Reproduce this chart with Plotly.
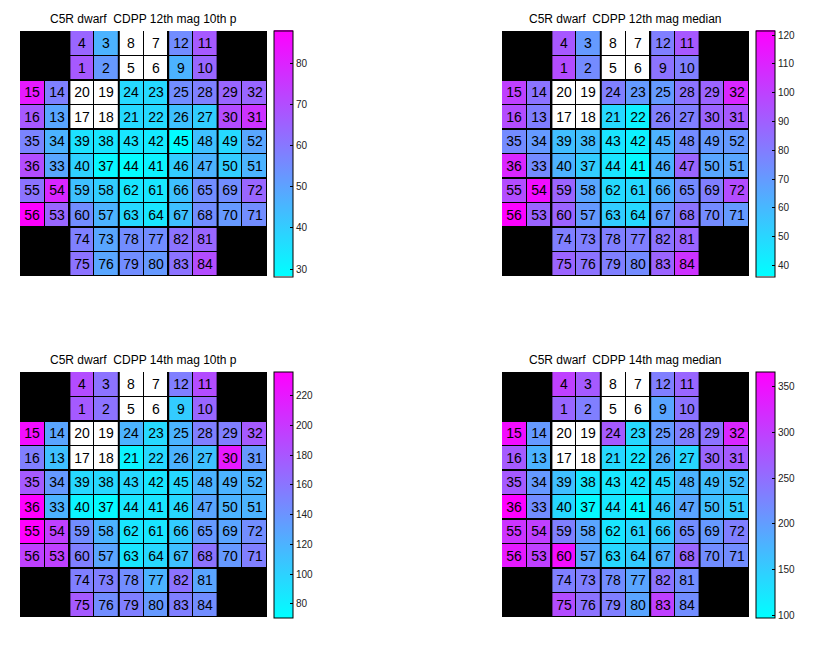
import plotly.graph_objects as go

W, H = 816, 650

# Channel layout (rows top->bottom), None = no channel (black)
layout_grid = [
    [None, None, 4, 3, 8, 7, 12, 11, None, None],
    [None, None, 1, 2, 5, 6, 9, 10, None, None],
    [15, 14, 20, 19, 24, 23, 25, 28, 29, 32],
    [16, 13, 17, 18, 21, 22, 26, 27, 30, 31],
    [35, 34, 39, 38, 43, 42, 45, 48, 49, 52],
    [36, 33, 40, 37, 44, 41, 46, 47, 50, 51],
    [55, 54, 59, 58, 62, 61, 66, 65, 69, 72],
    [56, 53, 60, 57, 63, 64, 67, 68, 70, 71],
    [None, None, 74, 73, 78, 77, 82, 81, None, None],
    [None, None, 75, 76, 79, 80, 83, 84, None, None],
]
white_channels = [5, 6, 7, 8, 17, 18, 19, 20]

titles = [
    "C5R dwarf  CDPP 12th mag 10th p",
    "C5R dwarf  CDPP 12th mag median",
    "C5R dwarf  CDPP 14th mag 10th p",
    "C5R dwarf  CDPP 14th mag median",
]
cranges = [(28.2, 87.9), (36.2, 121.6), (70.9, 236.3), (97.3, 366.6)]
dticks = [10, 10, 20, 50]

# CDPP values per channel (ppm)
cdpp_12_p10 = {
    4: 64, 3: 46, 12: 55, 11: 67, 1: 67, 2: 52, 9: 46, 10: 64,
    15: 82, 14: 58, 24: 37, 23: 37, 25: 55, 28: 58, 29: 64, 32: 64,
    16: 67, 13: 49, 21: 37, 22: 37, 26: 43, 27: 40, 30: 70, 31: 76,
    35: 57, 34: 46, 39: 35, 38: 34, 43: 34, 42: 33, 45: 29, 48: 43, 49: 37, 52: 49,
    36: 70, 33: 49, 40: 39, 37: 30, 44: 29, 41: 31, 46: 40, 47: 46, 50: 40, 51: 46,
    55: 61, 54: 79, 59: 43, 58: 40, 62: 34, 61: 34, 66: 43, 65: 55, 69: 55, 72: 64,
    56: 88, 53: 64, 60: 55, 57: 46, 63: 37, 64: 34, 67: 43, 68: 55, 70: 52, 71: 55,
    74: 58, 73: 49, 78: 55, 77: 55, 82: 61, 81: 64,
    75: 61, 76: 49, 79: 55, 80: 52, 83: 61, 84: 70,
}
cdpp_12_med = {
    4: 92, 3: 70, 12: 79, 11: 92, 1: 96, 2: 75, 9: 83, 10: 79,
    15: 100, 14: 83, 24: 79, 23: 70, 25: 70, 28: 83, 29: 88, 32: 109,
    16: 96, 13: 79, 21: 49, 22: 41, 26: 79, 27: 79, 30: 88, 31: 92,
    35: 75, 34: 70, 39: 58, 38: 58, 43: 45, 42: 41, 45: 62, 48: 75, 49: 70, 52: 70,
    36: 109, 33: 75, 40: 62, 37: 53, 44: 45, 41: 38, 46: 62, 47: 88, 50: 66, 51: 66,
    55: 96, 54: 117, 59: 88, 58: 66, 62: 49, 61: 49, 66: 62, 65: 75, 69: 79, 72: 96,
    56: 121, 53: 88, 60: 88, 57: 70, 63: 53, 64: 49, 67: 70, 68: 83, 70: 75, 71: 70,
    74: 79, 73: 79, 78: 79, 77: 79, 82: 83, 81: 88,
    75: 88, 76: 83, 79: 79, 80: 75, 83: 88, 84: 105,
}
cdpp_14_p10 = {
    4: 187, 3: 162, 12: 154, 11: 187, 1: 178, 2: 162, 9: 104, 10: 170,
    15: 228, 14: 129, 24: 120, 23: 96, 25: 120, 28: 154, 29: 154, 32: 178,
    16: 154, 13: 112, 21: 79, 22: 96, 26: 120, 27: 112, 30: 220, 31: 137,
    35: 178, 34: 137, 39: 96, 38: 96, 43: 96, 42: 87, 45: 96, 48: 120, 49: 120, 52: 120,
    36: 236, 33: 120, 40: 79, 37: 74, 44: 87, 41: 87, 46: 96, 47: 129, 50: 120, 51: 120,
    55: 236, 54: 195, 59: 145, 58: 120, 62: 87, 61: 87, 66: 104, 65: 137, 69: 129, 72: 145,
    56: 195, 53: 195, 60: 154, 57: 129, 63: 87, 64: 96, 67: 112, 68: 162, 70: 137, 71: 154,
    74: 154, 73: 154, 78: 145, 77: 120, 82: 162, 81: 129,
    75: 178, 76: 145, 79: 154, 80: 137, 83: 154, 84: 145,
}
cdpp_14_med = {
    4: 299, 3: 272, 12: 232, 11: 259, 1: 259, 2: 232, 9: 192, 10: 245,
    15: 353, 14: 205, 24: 272, 23: 138, 25: 205, 28: 232, 29: 245, 32: 326,
    16: 272, 13: 178, 21: 138, 22: 124, 26: 178, 27: 138, 30: 259, 31: 272,
    35: 272, 34: 205, 39: 165, 38: 124, 43: 124, 42: 124, 45: 138, 48: 178, 49: 165, 52: 165,
    36: 366, 33: 218, 40: 138, 37: 103, 44: 124, 41: 105, 46: 151, 47: 192, 50: 165, 51: 151,
    55: 313, 54: 299, 59: 232, 58: 192, 62: 124, 61: 138, 66: 151, 65: 218, 69: 205, 72: 232,
    56: 340, 53: 299, 60: 353, 57: 192, 63: 138, 64: 151, 67: 178, 68: 259, 70: 218, 71: 218,
    74: 232, 73: 232, 78: 218, 77: 192, 82: 245, 81: 218,
    75: 286, 76: 245, 79: 232, 80: 192, 83: 299, 84: 218,
}
panels_data = [cdpp_12_p10, cdpp_12_med, cdpp_14_p10, cdpp_14_med]

# pixel geometry of each panel: (left, top) of heatmap
panel_px = [(20, 31), (502, 31), (20, 372), (502, 372)]
hm_w, hm_h = 247, 245
cb_gap, cb_w = 7, 19

FONT = "Liberation Sans, Arial"
fig = go.Figure()
xs = list(range(10))
ys = list(range(10))

for i, data in enumerate(panels_data):
    ax = "" if i == 0 else str(i + 1)
    xa, ya = "x" + ax, "y" + ax
    z, txt, zw, tw = [], [], [], []
    for row in layout_grid:
        zr, tr, zwr, twr = [], [], [], []
        for ch in row:
            if ch is None:
                zr.append(None); tr.append(""); zwr.append(None); twr.append("")
            elif ch in white_channels:
                zr.append(None); tr.append(""); zwr.append(1); twr.append(str(ch))
            else:
                zr.append(data[ch]); tr.append(str(ch)); zwr.append(None); twr.append("")
        z.append(zr); txt.append(tr); zw.append(zwr); tw.append(twr)

    left, top = panel_px[i]
    cmin, cmax = cranges[i]
    fig.add_trace(go.Heatmap(
        x=xs, y=ys, z=z, text=txt, texttemplate="%{text}",
        textfont=dict(family=FONT, size=14, color="black"),
        colorscale=[[0, "#00ffff"], [1, "#ff00ff"]], zmin=cmin, zmax=cmax,
        xgap=1, ygap=1, hoverongaps=False, xaxis=xa, yaxis=ya,
        colorbar=dict(
            x=(left + hm_w + cb_gap) / W, xanchor="left",
            y=1 - (top + hm_h / 2) / H, yanchor="middle",
            len=hm_h + 1, lenmode="pixels", thickness=cb_w, thicknessmode="pixels",
            outlinewidth=1, outlinecolor="black", borderwidth=0, xpad=0, ypad=0,
            ticks="inside", ticklen=3, tickcolor="black", dtick=dticks[i],
            tickfont=dict(family=FONT, size=10, color="#222"),
        ),
    ))
    fig.add_trace(go.Heatmap(
        x=xs, y=ys, z=zw, text=tw, texttemplate="%{text}",
        textfont=dict(family=FONT, size=14, color="black"),
        colorscale=[[0, "white"], [1, "white"]], showscale=False,
        xgap=1, ygap=1, hoverongaps=False, xaxis=xa, yaxis=ya,
    ))
    dom_x = [left / W, (left + hm_w) / W]
    dom_y = [1 - (top + hm_h) / H, 1 - top / H]
    fig.layout["xaxis" + ax] = dict(domain=dom_x, range=[-0.5, 9.5], showticklabels=False,
                                    showgrid=False, zeroline=False, ticks="",
                                    anchor=ya, fixedrange=True)
    fig.layout["yaxis" + ax] = dict(domain=dom_y, range=[9.5, -0.5], showticklabels=False,
                                    showgrid=False, zeroline=False, ticks="",
                                    anchor=xa, fixedrange=True)
    # module boundaries (thicker lines)
    for b in [1.5, 3.5, 5.5, 7.5]:
        fig.add_shape(type="line", xref=xa, yref=ya, x0=b, x1=b, y0=-0.5, y1=9.5,
                      line=dict(color="black", width=2))
        fig.add_shape(type="line", xref=xa, yref=ya, x0=-0.5, x1=9.5, y0=b, y1=b,
                      line=dict(color="black", width=2))
    fig.add_annotation(text=titles[i], xref="paper", yref="paper",
                       x=(left + hm_w / 2) / W, y=1 - (top - 3) / H,
                       xanchor="center", yanchor="bottom", showarrow=False,
                       font=dict(family=FONT, size=12, color="black"))

fig.update_layout(
    width=W, height=H, margin=dict(l=0, r=0, t=0, b=0),
    paper_bgcolor="white", plot_bgcolor="black", showlegend=False,
)
fig.write_html("out.html")
